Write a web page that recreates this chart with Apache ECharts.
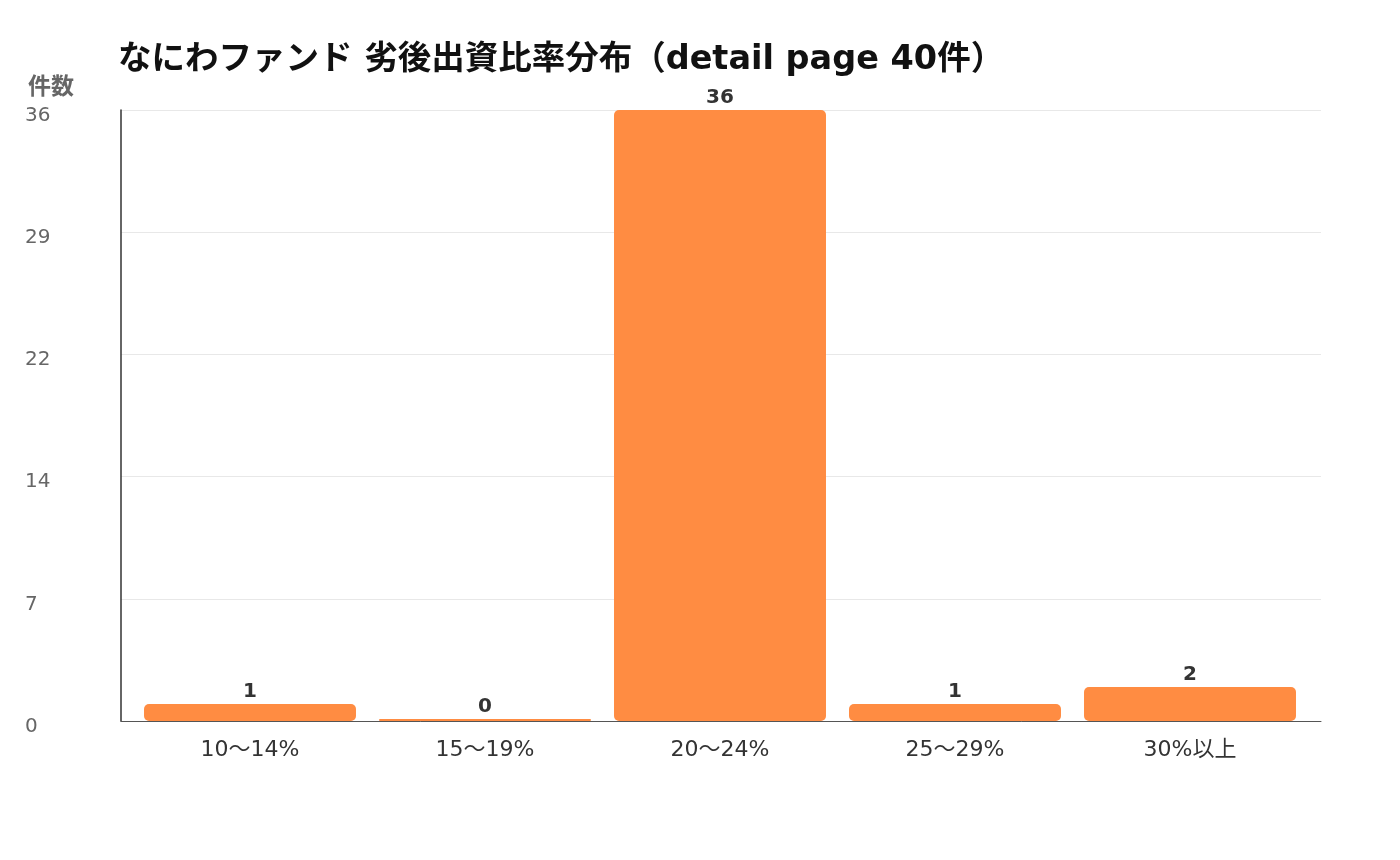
<!DOCTYPE html>
<html>
<head>
<meta charset="utf-8">
<script src="https://cdn.jsdelivr.net/npm/echarts@6/dist/echarts.min.js"></script>
<style>
  html, body { margin: 0; padding: 0; background: #fff; }
  #chart { width: 1400px; height: 860px; }
</style>
</head>
<body>
<div id="chart"></div>
<script>
const titleText = 'なにわファンド 劣後出資比率分布（detail page 40件）';
const categories = ['10～14%', '15～19%', '20～24%', '25～29%', '30%以上'];
const counts = [1, 0, 36, 1, 2];
const yMax = 36;
const yStep = 7.2;

const fontFamily = '"DejaVu Sans", "Noto Sans CJK JP", sans-serif';

const chart = echarts.init(document.getElementById('chart'));
chart.setOption({
  backgroundColor: '#ffffff',
  textStyle: { fontFamily: fontFamily },
  title: {
    text: titleText,
    left: 113,
    top: 39,
    textStyle: { fontSize: 33.5, fontWeight: 'bold', color: '#111', fontFamily: fontFamily }
  },
  // grid 0: frame (axis lines, grid lines, y labels); grid 1: bars, slightly inset like the original
  grid: [
    { left: 121, right: 79, top: 110, bottom: 139 },
    { left: 132.5, right: 92.5, top: 110, bottom: 139 }
  ],
  xAxis: [
    {
      gridIndex: 0,
      type: 'value',
      min: 0,
      max: 1,
      axisLine: { show: true, lineStyle: { color: '#555', width: 1 } },
      axisTick: { show: false },
      axisLabel: { show: false },
      splitLine: { show: false }
    },
    {
      gridIndex: 1,
      type: 'category',
      data: categories,
      axisTick: { show: false },
      axisLine: { show: false },
      axisLabel: { color: '#333', fontSize: 22, margin: 18, fontFamily: fontFamily }
    }
  ],
  yAxis: [
    {
      gridIndex: 0,
      type: 'value',
      min: 0,
      max: yMax,
      interval: yStep,
      name: '件数',
      nameLocation: 'end',
      nameGap: 10,
      nameTextStyle: { color: '#666', fontSize: 23, fontWeight: 'bold', align: 'left', padding: [0, 0, 0, -93] },
      axisLine: { show: true, lineStyle: { color: '#333', width: 1.5 } },
      axisTick: { show: false },
      splitLine: { lineStyle: { color: '#e8e8e8' } },
      axisLabel: {
        align: 'left',
        margin: 96,
        formatter: v => '{t|' + Math.round(v) + '}',
        rich: {
          t: { color: '#666', fontSize: 20, padding: [11, 0, 0, 0], fontFamily: fontFamily }
        }
      }
    },
    {
      gridIndex: 1,
      type: 'value',
      min: 0,
      max: yMax,
      interval: yStep,
      show: false,
      splitLine: { show: false }
    }
  ],
  series: [{
    type: 'bar',
    xAxisIndex: 1,
    yAxisIndex: 1,
    data: counts,
    barWidth: '90.2%',
    barMinHeight: 2,
    itemStyle: { color: '#ff8c42', borderRadius: 5 },
    label: {
      show: true,
      position: 'top',
      distance: 2,
      color: '#333',
      fontSize: 20,
      fontWeight: 'bold'
    }
  }]
});
</script>
</body>
</html>
